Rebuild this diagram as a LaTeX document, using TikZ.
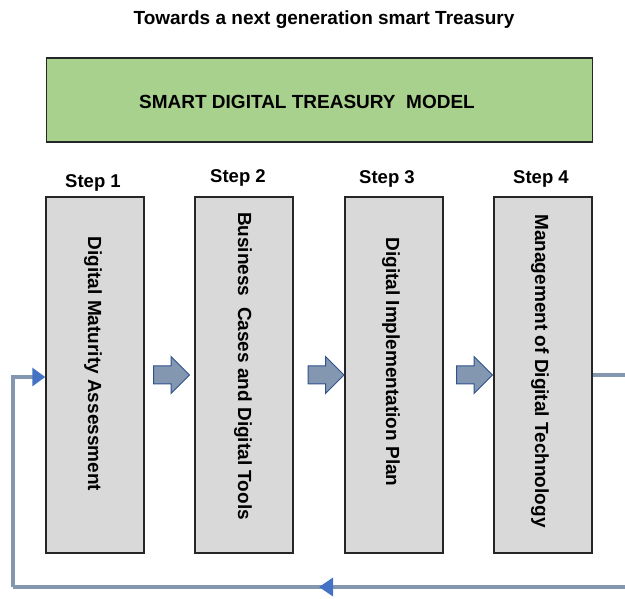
\documentclass[tikz,border=0pt]{standalone}
\usepackage{fontspec}
\setmainfont{Liberation Sans}
\usetikzlibrary{arrows.meta,shapes.arrows,decorations.markings,calc}
\definecolor{boxgray}{HTML}{D9D9D9}
\definecolor{boxline}{HTML}{262626}
\definecolor{modelgreen}{HTML}{A9D18E}
\definecolor{loopcol}{HTML}{8497B0}
\definecolor{tipblue}{HTML}{4472C4}
\definecolor{arrowedge}{HTML}{2F528F}
\tikzset{
  stepbox/.style={draw=boxline,line width=1.5pt,fill=boxgray,minimum width=98pt,minimum height=356pt,inner sep=0pt},
  steptext/.style={rotate=-90,font=\fontsize{19}{22}\selectfont\bfseries,inner sep=0pt},
  steplabel/.style={font=\fontsize{18.5}{22}\selectfont\bfseries,inner sep=0pt},
  modelbox/.style={draw=boxline,line width=1.5pt,fill=modelgreen,minimum width=546pt,minimum height=84pt,inner sep=0pt},
  blockarrow/.style={single arrow,draw=arrowedge,line width=1pt,fill=loopcol,minimum height=36pt,minimum width=36pt,single arrow head extend=9.5pt,inner xsep=0pt,inner ysep=8.5pt},
  loopline/.style={draw=loopcol,line width=3.5pt},
  looptip/.style={-{Triangle[length=13pt,width=18pt,color=tipblue]}},
}
\begin{document}
\begin{tikzpicture}[x=1pt,y=-1pt]
\useasboundingbox (0,0) rectangle (625,599);
\node[font=\fontsize{19}{22}\selectfont\bfseries] (title) at (324,20) {Towards a next generation smart Treasury};
\node[modelbox] (model) at (319.5,100) {};
\node[font=\fontsize{19}{22}\selectfont\bfseries] (modeltext) at (307,102) {SMART DIGITAL TREASURY\ \ MODEL};
\node[stepbox] (s1) at (95,375) {};
\node[stepbox] (s2) at (244,375) {};
\node[stepbox] (s3) at (394,375) {};
\node[stepbox] (s4) at (543,375) {};
\node[steplabel] (l1) at (93,183) {Step 1};
\node[steplabel] (l2) at (238,178) {Step 2};
\node[steplabel] (l3) at (387,179) {Step 3};
\node[steplabel] (l4) at (541,179) {Step 4};
\node[steptext] (t1) at (93,364) {Digital Maturity Assessment};
\node[steptext] (t2) at (243,366) {Business\ \ Cases and Digital Tools};
\node[steptext] (t3) at (391,362) {Digital Implementation Plan};
\node[steptext] (t4) at (540,371) {Management of Digital Technology};
\node[blockarrow] (a1) at (167,375) {};
\node[blockarrow] (a2) at (321.5,375) {};
\node[blockarrow] (a3) at (470,375) {};
\coordinate (outr) at (625,375);
\coordinate (backr) at (625,587);
\coordinate (backl) at (13,587);
\coordinate (upl) at (13,377);
\draw[loopline] (s4.east |- outr) -- (outr);
\draw[loopline,postaction={decorate},decoration={markings,mark=at position 0.5 with {\arrow{Triangle[length=14pt,width=18pt,color=tipblue]}}}] (backr) -- (backl);
\draw[loopline,looptip] (backl) -- (upl) -- (upl -| s1.west);
\end{tikzpicture}
\end{document}
